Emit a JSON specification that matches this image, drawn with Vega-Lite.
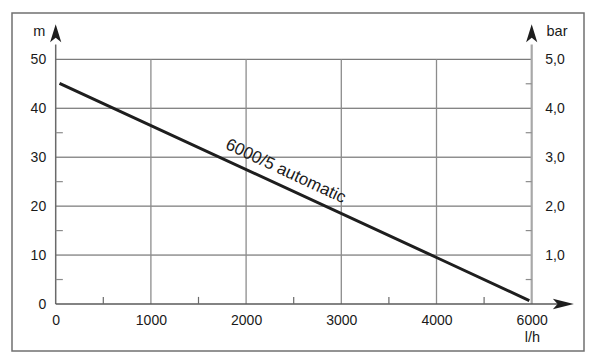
{
  "$schema": "https://vega.github.io/schema/vega-lite/v6.json",
  "width": 572,
  "height": 338,
  "autosize": {"type": "none"},
  "padding": {"left": 12, "top": 13, "right": 11, "bottom": 8},
  "background": "white",
  "config": {
    "view": {"stroke": "#707070", "strokeWidth": 1.5},
    "axis": {
      "labelFont": "Liberation Sans",
      "labelFontSize": 14,
      "labelColor": "#1a1a1a",
      "titleFont": "Liberation Sans",
      "titleFontSize": 14.5,
      "titleFontWeight": "normal",
      "titleColor": "#1a1a1a",
      "domain": false,
      "ticks": false,
      "grid": false,
      "labelFlush": false,
      "labelOverlap": false
    }
  },
  "datasets": {
    "hgrid": [{"h": 10}, {"h": 20}, {"h": 30}, {"h": 40}, {"h": 50}],
    "vgrid": [{"q": 1000}, {"q": 2000}, {"q": 3000}, {"q": 4000}],
    "leftMinor": [{"h": 5}, {"h": 15}, {"h": 25}, {"h": 35}],
    "rightMinor": [{"h": 5}, {"h": 15}, {"h": 25}, {"h": 35}, {"h": 45}],
    "bottomMinor": [{"q": 500}, {"q": 1500}, {"q": 2500}, {"q": 3500}, {"q": 5000}],
    "curve": [{"q": 40, "h": 45.1}, {"q": 4000, "h": 9.5}, {"q": 5950, "h": 0.7}],
    "label": [{"q": 2415, "h": 27.1, "name": "6000/5 automatic"}],
    "upArrows": [{"q": 0, "h": 55.3}, {"q": 6000, "h": 55.3}],
    "rightArrow": [{"q": 6665, "h": 0}]
  },
  "layer": [
    {
      "data": {"name": "hgrid"},
      "mark": {"type": "rule", "color": "#5a5a5a", "strokeWidth": 1},
      "encoding": {
        "y": {
          "field": "h", "type": "quantitative",
          "scale": {"domain": [0, 50], "range": [291, 46.3], "nice": false, "zero": false},
          "axis": {
            "orient": "left", "offset": -43.7,
            "values": [0, 10, 20, 30, 40, 50],
            "format": "d",
            "labelPadding": 10,
            "title": "m", "titleAngle": 0, "titleX": -17, "titleY": 22,
            "titleAlign": "center", "titleBaseline": "alphabetic"
          }
        },
        "x": {
          "datum": 0, "type": "quantitative",
          "scale": {"domain": [0, 4000, 6000], "range": [43.7, 424.5, 519.7], "nice": false, "zero": false},
          "axis": {
            "orient": "bottom", "offset": -47,
            "values": [0, 1000, 2000, 3000, 4000, 6000],
            "format": "d",
            "labelPadding": 9,
            "title": "l/h", "titleAngle": 0, "titleX": 520, "titleY": 37.7,
            "titleAlign": "center", "titleBaseline": "alphabetic"
          }
        },
        "x2": {"datum": 6000}
      }
    },
    {
      "data": {"name": "vgrid"},
      "mark": {"type": "rule", "color": "#8c8c8c", "strokeWidth": 1.3},
      "encoding": {
        "x": {"field": "q", "type": "quantitative", "axis": null},
        "y": {"datum": 0, "type": "quantitative", "axis": null},
        "y2": {"datum": 50}
      }
    },
    {
      "data": {"values": [{"q": 0}]},
      "mark": {"type": "rule", "color": "#6a6a6a", "strokeWidth": 1.5},
      "encoding": {
        "x": {"field": "q", "type": "quantitative", "axis": null},
        "y": {"datum": 0, "type": "quantitative", "axis": null},
        "y2": {"datum": 53}
      }
    },
    {
      "data": {"values": [{"q": 6000}]},
      "mark": {"type": "rule", "color": "#a8a8a8", "strokeWidth": 2.2},
      "encoding": {
        "x": {"field": "q", "type": "quantitative", "axis": null},
        "y": {
          "datum": 0, "type": "quantitative",
          "axis": {
            "orient": "right", "offset": -52.3,
            "values": [10, 20, 30, 40, 50],
            "labelExpr": "replace(format(datum.value / 10, '.1f'), '.', ',')",
            "labelPadding": 13,
            "title": "bar", "titleAngle": 0, "titleX": 14.3, "titleY": 22,
            "titleAlign": "left", "titleBaseline": "alphabetic"
          }
        },
        "y2": {"datum": 53}
      }
    },
    {
      "data": {"values": [{"h": 0}]},
      "mark": {"type": "rule", "color": "#5a5a5a", "strokeWidth": 1.5},
      "encoding": {
        "y": {"field": "h", "type": "quantitative", "axis": null},
        "x": {"datum": 0, "type": "quantitative", "axis": null},
        "x2": {"datum": 6550}
      }
    },
    {
      "data": {"name": "leftMinor"},
      "mark": {"type": "rule", "color": "#8c8c8c", "strokeWidth": 1.2},
      "encoding": {
        "y": {"field": "h", "type": "quantitative", "axis": null},
        "x": {"datum": 0, "type": "quantitative", "axis": null},
        "x2": {"datum": 75}
      }
    },
    {
      "data": {"name": "rightMinor"},
      "mark": {"type": "rule", "color": "#8c8c8c", "strokeWidth": 1.2},
      "encoding": {
        "y": {"field": "h", "type": "quantitative", "axis": null},
        "x": {"datum": 5874, "type": "quantitative", "axis": null},
        "x2": {"datum": 6000}
      }
    },
    {
      "data": {"name": "bottomMinor"},
      "mark": {"type": "rule", "color": "#6a6a6a", "strokeWidth": 1.2},
      "encoding": {
        "x": {"field": "q", "type": "quantitative", "axis": null},
        "y": {"datum": 0, "type": "quantitative", "axis": null},
        "y2": {"datum": 1.45}
      }
    },
    {
      "data": {"name": "curve"},
      "mark": {"type": "line", "color": "#1e1e1e", "strokeWidth": 3, "strokeCap": "butt"},
      "encoding": {
        "x": {"field": "q", "type": "quantitative", "axis": null},
        "y": {"field": "h", "type": "quantitative", "axis": null}
      }
    },
    {
      "data": {"name": "label"},
      "mark": {"type": "text", "angle": 25, "align": "center", "baseline": "middle", "font": "Liberation Sans", "fontSize": 17, "color": "#1a1a1a"},
      "encoding": {
        "x": {"field": "q", "type": "quantitative", "axis": null},
        "y": {"field": "h", "type": "quantitative", "axis": null},
        "text": {"field": "name"}
      }
    },
    {
      "data": {"name": "upArrows"},
      "mark": {"type": "point", "filled": true, "color": "#1e1e1e", "opacity": 1, "strokeWidth": 0, "size": 324, "shape": "M0,-1L0.62,1L0,0.5L-0.62,1Z"},
      "encoding": {
        "x": {"field": "q", "type": "quantitative", "axis": null},
        "y": {"field": "h", "type": "quantitative", "axis": null}
      }
    },
    {
      "data": {"name": "rightArrow"},
      "mark": {"type": "point", "filled": true, "color": "#1e1e1e", "opacity": 1, "strokeWidth": 0, "size": 441, "shape": "M1,0L-1,0.5L-0.55,0L-1,-0.5Z"},
      "encoding": {
        "x": {"field": "q", "type": "quantitative", "axis": null},
        "y": {"field": "h", "type": "quantitative", "axis": null}
      }
    }
  ],
  "resolve": {"axis": {"x": "independent", "y": "independent"}}
}
